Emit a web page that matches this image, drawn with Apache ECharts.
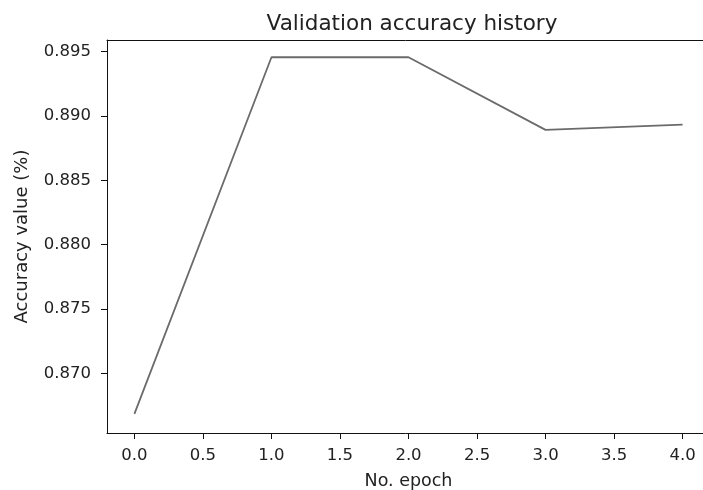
<!DOCTYPE html>
<html>
<head>
<meta charset="utf-8">
<script src="https://cdn.jsdelivr.net/npm/echarts@6/dist/echarts.min.js"></script>
<style>
  html, body { margin: 0; padding: 0; background: #fff; }
  #chart { width: 703px; height: 490px; }
</style>
</head>
<body>
<div id="chart"></div>
<script>
var epochs = [0, 1, 2, 3, 4];
var accuracy = [0.86686, 0.89455, 0.89455, 0.88891, 0.88932];
var xTicks = [0, 0.5, 1, 1.5, 2, 2.5, 3, 3.5, 4];
var yTicks = [0.870, 0.875, 0.880, 0.885, 0.890, 0.895];

var points = [];
for (var i = 0; i < epochs.length; ++i)
    points.push([epochs[i], accuracy[i]]);

var textColor = '#222';
var spineColor = '#111';
var font = 'DejaVu Sans';

var chart = echarts.init(document.getElementById('chart'));

var option = {
    animation: false,
    title: {
      text: 'Validation accuracy history',
      left: 407,
      textAlign: 'center',
      top: 8,
      textStyle: { fontFamily: font, fontSize: 21.5, fontWeight: 'normal', color: textColor }
    },
    grid: {
      left: 107,
      top: 40,
      width: 603,
      height: 393,
      outerBoundsMode: 'none',
      containLabel: false
    },
    xAxis: [
      {
        type: 'value',
        position: 'bottom',
        min: -0.2,
        max: 4.2,
        name: 'No. epoch',
        nameLocation: 'middle',
        nameGap: 39,
        nameTextStyle: { fontFamily: font, fontSize: 17.5, color: textColor },
        axisLine: { show: true, onZero: false, lineStyle: { color: spineColor, width: 1 } },
        splitLine: { show: false },
        axisTick: { show: true, length: 6, customValues: xTicks, lineStyle: { color: spineColor } },
        axisLabel: {
          customValues: xTicks,
          margin: 14,
          fontFamily: font, fontSize: 16.5, color: textColor,
          formatter: function (v) { return v.toFixed(1); }
        }
      },
      {
        type: 'value',
        position: 'top',
        min: -0.2,
        max: 4.2,
        axisLine: { show: true, onZero: false, lineStyle: { color: spineColor, width: 1 } },
        splitLine: { show: false },
        axisTick: { show: false },
        axisLabel: { show: false }
      }
    ],
    yAxis: {
      type: 'value',
      min: 0.86538,
      max: 0.89589,
      name: 'Accuracy value (%)',
      nameLocation: 'middle',
      nameGap: 76,
      nameTextStyle: { fontFamily: font, fontSize: 18, color: textColor },
      axisLine: { show: true, onZero: false, lineStyle: { color: spineColor, width: 1 } },
      splitLine: { show: false },
      axisTick: { show: true, length: 6, customValues: yTicks, lineStyle: { color: spineColor } },
      axisLabel: {
        customValues: yTicks,
        margin: 16,
        fontFamily: font, fontSize: 16.5, color: textColor,
        formatter: function (v) { return v.toFixed(3); }
      }
    },
    series: [
      {
        type: 'line',
        data: points,
        symbol: 'none',
        lineStyle: { color: '#6b6b6b', width: 1.8 }
      }
    ]
};

chart.setOption(option);
</script>
</body>
</html>
